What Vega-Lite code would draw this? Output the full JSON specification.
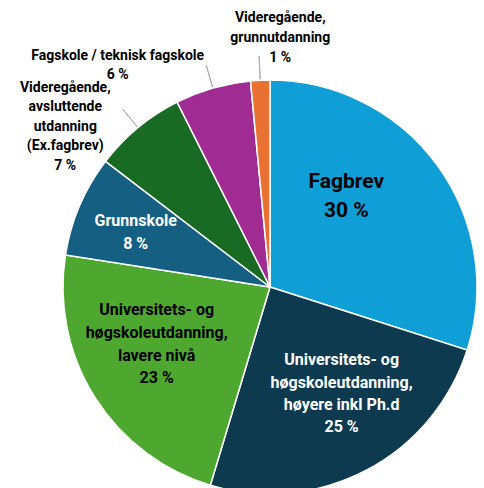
{
  "$schema": "https://vega.github.io/schema/vega-lite/v6.json",
  "width": 484,
  "height": 488,
  "padding": 0,
  "autosize": "none",
  "background": "white",
  "view": {"stroke": null},
  "config": {"text": {"font": "Roboto, sans-serif", "fontWeight": "bold", "align": "center", "baseline": "middle"}},
  "data": {"values": [
    {"cat": "Fagbrev", "value": 29.9, "order": 1, "label": ["Fagbrev", "30 %"]},
    {"cat": "Universitets- og høgskoleutdanning, høyere inkl Ph.d", "value": 24.7, "order": 2, "label": ["Universitets- og", "høgskoleutdanning,", "høyere  inkl Ph.d", "25 %"]},
    {"cat": "Universitets- og høgskoleutdanning, lavere nivå", "value": 22.8, "order": 3, "label": ["Universitets- og", "høgskoleutdanning,", "lavere nivå", "23 %"]},
    {"cat": "Grunnskole", "value": 7.9, "order": 4, "label": ["Grunnskole", "8 %"]},
    {"cat": "Videregående, avsluttende utdanning (Ex.fagbrev)", "value": 7.2, "order": 5, "label": ["Videregående,", "avsluttende", "utdanning", "(Ex.fagbrev)", "7 %"]},
    {"cat": "Fagskole / teknisk fagskole", "value": 5.9, "order": 6, "label": ["Fagskole / teknisk fagskole", "6 %"]},
    {"cat": "Videregående, grunnutdanning", "value": 1.5, "order": 7, "label": ["Videregående,", "grunnutdanning", "1 %"]}
  ]},
  "encoding": {
    "theta": {"field": "value", "type": "quantitative", "stack": true},
    "order": {"field": "order", "type": "quantitative"}
  },
  "layer": [
    {
      "mark": {"type": "arc", "outerRadius": 207, "stroke": "white", "strokeWidth": 1.5, "xOffset": 28, "yOffset": 43},
      "encoding": {
        "color": {"field": "cat", "type": "nominal", "legend": null,
          "scale": {
            "domain": ["Fagbrev", "Universitets- og høgskoleutdanning, høyere inkl Ph.d", "Universitets- og høgskoleutdanning, lavere nivå", "Grunnskole", "Videregående, avsluttende utdanning (Ex.fagbrev)", "Fagskole / teknisk fagskole", "Videregående, grunnutdanning"],
            "range": ["#0F9ED5", "#0E3A4F", "#4EA72E", "#156082", "#196B24", "#A02B93", "#E97132"]
          }}
      }
    },
    {
      "mark": {"type": "arc", "innerRadius": 208, "outerRadius": 231, "padAngle": 1.5, "fill": null, "stroke": "#a6a6a6", "strokeWidth": 0.9, "xOffset": 28, "yOffset": 43},
      "encoding": {
        "detail": {"field": "cat"},
        "strokeOpacity": {"condition": {"test": "datum.order >= 5", "value": 1}, "value": 0}
      }
    },
    {
      "mark": {"type": "text", "radius": 118, "dx": -19, "dy": -35, "xOffset": 28, "yOffset": 43, "fontSize": 21, "lineHeight": 29, "color": "black"},
      "encoding": {"detail": {"field": "cat"}, "text": {"condition": {"test": "datum.order === 1", "field": "label", "type": "nominal"}, "value": ""}}
    },
    {
      "mark": {"type": "text", "radius": 128, "dx": 12, "dy": -40, "xOffset": 28, "yOffset": 43, "fontSize": 16, "lineHeight": 22.3, "color": "white"},
      "encoding": {"detail": {"field": "cat"}, "text": {"condition": {"test": "datum.order === 2", "field": "label", "type": "nominal"}, "value": ""}}
    },
    {
      "mark": {"type": "text", "radius": 128, "dx": -5, "dy": -45, "xOffset": 28, "yOffset": 43, "fontSize": 16, "lineHeight": 22.7, "color": "black"},
      "encoding": {"detail": {"field": "cat"}, "text": {"condition": {"test": "datum.order === 3", "field": "label", "type": "nominal"}, "value": ""}}
    },
    {
      "mark": {"type": "text", "radius": 145, "dx": -1, "dy": -9, "xOffset": 28, "yOffset": 43, "fontSize": 16, "lineHeight": 23, "color": "white"},
      "encoding": {"detail": {"field": "cat"}, "text": {"condition": {"test": "datum.order === 4", "field": "label", "type": "nominal"}, "value": ""}}
    },
    {
      "mark": {"type": "text", "radius": 230, "dx": -58, "dy": -22, "xOffset": 28, "yOffset": 43, "fontSize": 14, "lineHeight": 19.5, "color": "black"},
      "encoding": {"detail": {"field": "cat"}, "text": {"condition": {"test": "datum.order === 5", "field": "label", "type": "nominal"}, "value": ""}}
    },
    {
      "mark": {"type": "text", "radius": 240, "dx": -86, "dy": 0, "xOffset": 28, "yOffset": 43, "fontSize": 14, "lineHeight": 19, "color": "black"},
      "encoding": {"detail": {"field": "cat"}, "text": {"condition": {"test": "datum.order === 6", "field": "label", "type": "nominal"}, "value": ""}}
    },
    {
      "mark": {"type": "text", "radius": 249, "dx": 22, "dy": -20, "xOffset": 28, "yOffset": 43, "fontSize": 14, "lineHeight": 20, "color": "black"},
      "encoding": {"detail": {"field": "cat"}, "text": {"condition": {"test": "datum.order === 7", "field": "label", "type": "nominal"}, "value": ""}}
    }
  ]
}
